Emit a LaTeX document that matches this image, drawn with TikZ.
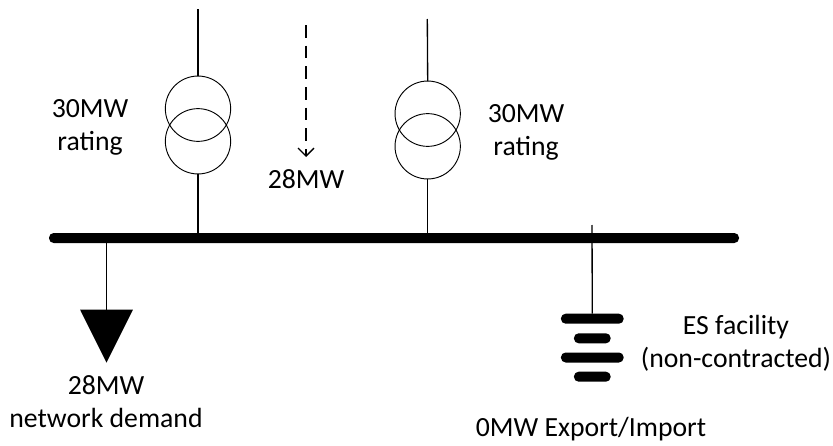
\documentclass[tikz,border=0pt]{standalone}
\usepackage{fontspec}
\setmainfont{Carlito}
\usetikzlibrary{shapes.geometric}
\usetikzlibrary{arrows.meta}

\begin{document}
\begin{tikzpicture}[x=0.75pt,y=-0.75pt,
						every node/.style={inner sep=0pt,outer sep=0pt},
						winding/.style={circle,draw,line width=0.7pt,minimum size=49pt},
						wire/.style={line width=1pt},
						busbar/.style={fill,rounded corners=3.5pt,minimum height=7.5pt},
						cell/.style={fill,rounded corners=3.5pt,minimum height=7.5pt},
						label/.style={align=center,font=\fontsize{20.8}{24.75}\selectfont},
						demand/.style={fill,isosceles triangle,isosceles triangle apex angle=53,shape border rotate=270,minimum height=39.75pt}
						]
						\useasboundingbox (0,0) rectangle (833,446);
						\node[busbar,minimum width=517.5pt](bus) at (394,238){};
						\node[winding](upa) at (198,108.7){};
						\node[winding](lowa) at (198,141.3){};
						\node[winding](upb) at (427.7,113.7){};
						\node[winding](lowb) at (427.7,146.3){};
						\coordinate (feeda) at (198,9);
						\coordinate (feedb) at (427.3,19);
						\coordinate (flowtop) at (306,25);
						\coordinate (flowend) at (306,157);
						\coordinate (busa) at (198,233);
						\coordinate (busb) at (427.7,233);
						\coordinate (busload) at (106.5,238);
						\coordinate (buses) at (592,225);
						\node[demand](load) at (106.5,326){};
						\node[cell,minimum width=47pt](esa) at (592.3,318.7){};
						\node[cell,minimum width=27.5pt](esb) at (592.3,338.3){};
						\node[cell,minimum width=47pt](esc) at (592.3,357.5){};
						\node[cell,minimum width=27.5pt](esd) at (592.3,376.7){};
						\draw[wire] (feeda) -- (upa.north);
						\draw[wire] (lowa.south) -- (busa);
						\draw[wire] (feedb) -- (upb.north);
						\draw[wire] (lowb.south) -- (busb);
						\draw[wire] (busload) -- (busload |- load.north);
						\draw[wire] (buses) -- (esa.north);
						\draw[wire,dashed,dash pattern=on 9.5pt off 6pt,-{Straight Barb[length=6pt,width=12pt]}] (flowtop) -- (flowend);
						\node[label](ratinga) at (90,127){30MW\\rating};
						\node[label](ratingb) at (526,132){30MW\\rating};
						\node[label](flow) at (306,179){28MW};
						\node[label](loadtext) at (106,402){28MW\\network demand};
						\node[label](estext) at (736,343){ES facility\\(non-contracted)};
						\node[label](esflow) at (591,429){0MW Export/Import};
						\end{tikzpicture}
\end{document}
